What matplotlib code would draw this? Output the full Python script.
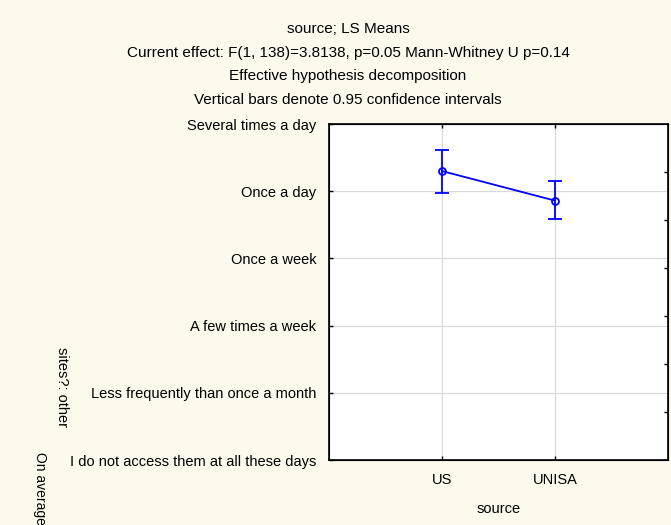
import numpy as np
import matplotlib.pyplot as plt

plt.rcParams['font.family'] = ['Liberation Sans', 'DejaVu Sans']

# data
sources = ["US", "UNISA"]
freq_labels = ["I do not access them at all these days",
               "Less frequently than once a month",
               "A few times a week",
               "Once a week",
               "Once a day",
               "Several times a day"]
ls_means = [5.30, 4.86]
ci_low = [4.98, 4.58]
ci_high = [5.62, 5.15]

bg = "#fef9ed"
fig = plt.figure(figsize=(6.71, 5.25), dpi=100, facecolor=bg)
ax = fig.add_axes([0.4903, 0.1238, 0.5052, 0.6400])
ax.set_facecolor("white")

x = np.arange(1, len(sources) + 1)
means = np.array(ls_means)
yerr = [means - np.array(ci_low), np.array(ci_high) - means]
ax.errorbar(x, means, yerr=yerr, color="#0000ff", lw=1.3, marker="o", ms=5,
            mfc="none", mec="#0000ff", mew=1.3, capsize=4.8, capthick=1.3, zorder=3)

ax.set_xlim(0, 3)
ax.set_ylim(1, 6)
ax.set_xticks(x)
ax.set_xticklabels(sources, fontsize=10.5)
ax.set_yticks(np.arange(1, 7))
ax.set_yticklabels(freq_labels, fontsize=10.5)
ax.tick_params(axis="x", direction="in", top=True, bottom=True, length=3, width=1, pad=9)
ax.tick_params(axis="y", direction="in", left=True, right=False, length=3, width=1, pad=9)
ax.grid(True, color="#d9d9d9", lw=0.9)
ax.set_axisbelow(True)
for s in ax.spines.values():
    s.set_linewidth(1.2)

# right side ticks (separate scale)
ax2 = ax.twinx()
ax2.set_ylim(0, 7)
ax2.set_yticks(np.arange(1, 7))
ax2.set_yticklabels([])
ax2.tick_params(axis="y", direction="in", length=3, width=1)

ax.set_xlabel("source", fontsize=10.5, labelpad=11)

fs = 11
fig.text(0.5186, 1 - 29 / 525, "source; LS Means", ha="center", va="center", fontsize=fs)
fig.text(0.5186, 1 - 53 / 525, "Current effect: F(1, 138)=3.8138, p=0.05 Mann-Whitney U p=0.14",
         ha="center", va="center", fontsize=fs)
fig.text(0.5186, 1 - 76 / 525, "Effective hypothesis decomposition", ha="center", va="center", fontsize=fs)
fig.text(0.5186, 1 - 100 / 525, "Vertical bars denote 0.95 confidence intervals",
         ha="center", va="center", fontsize=fs)

fig.text(62 / 671, 1 - 387 / 525, "sites?: other", rotation=270, ha="center", va="center", fontsize=10.5)
fig.text(33 / 671, 1 - 452 / 525, "On average", rotation=270, ha="left", va="top", fontsize=10)

fig.savefig("out.png", dpi=100, facecolor=bg)
